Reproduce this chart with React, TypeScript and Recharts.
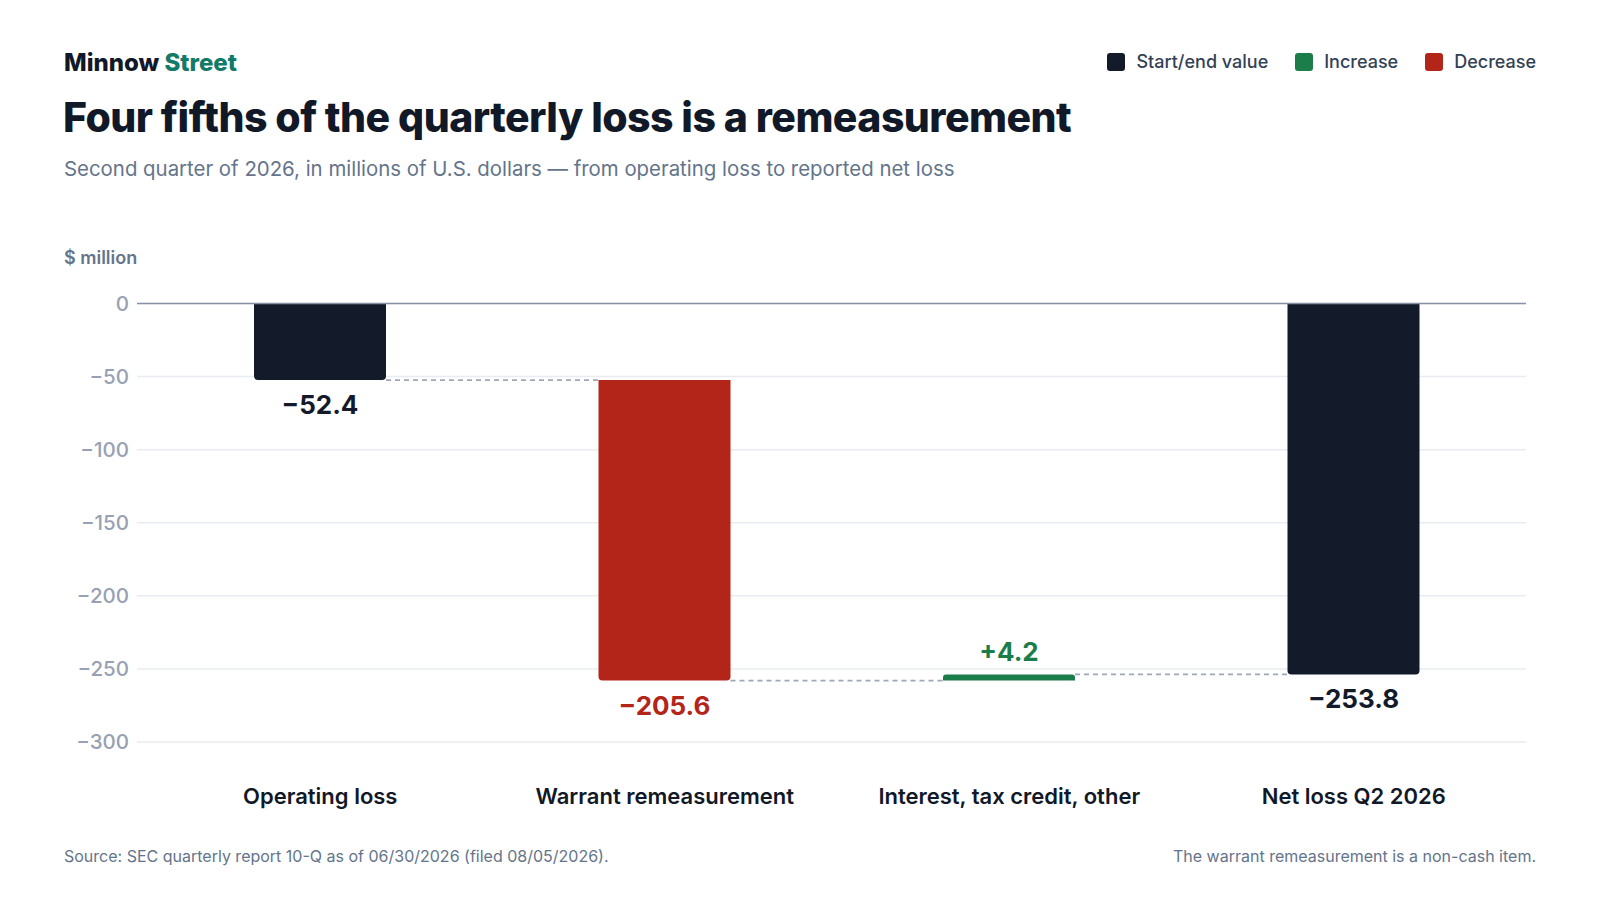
import React from 'react';
import { BarChart, Bar, XAxis, YAxis, CartesianGrid, ReferenceLine } from 'recharts';

const categories = ['Operating loss', 'Warrant remeasurement', 'Interest, tax credit, other', 'Net loss Q2 2026'];
const values = [-52.4, -205.6, 4.2, -253.8];
const kinds = ['total', 'decrease', 'increase', 'total'];
const yTicks = [0, -50, -100, -150, -200, -250, -300];
const legendLabels = ['Start/end value', 'Increase', 'Decrease'];
const legendKinds = ['total', 'increase', 'decrease'];

const COLORS: Record<string, string> = {
  total: '#131a29',
  increase: '#1b7d4a',
  decrease: '#b32419',
};

const FONT = 'Inter, "Noto Sans", sans-serif';

let running = 0;
const data = categories.map((name, i) => {
  const kind = kinds[i];
  const v = values[i];
  let start: number;
  let end: number;
  if (kind === 'total') {
    start = 0;
    end = v;
  } else {
    start = running;
    end = running + v;
  }
  running = end;
  return { name, kind, value: v, start, end };
});

const fmt = (v: number) => (v < 0 ? '\u2212' + Math.abs(v) : v > 0 ? '+' + v : '0');
const fmtLabel = (v: number, kind: string) =>
  v < 0 ? '\u2212' + Math.abs(v).toFixed(1) : (kind === 'increase' ? '+' : '') + v.toFixed(1);

const edges: Record<number, { right: number; endY: number }> = {};

const WaterfallShape = (props: any) => {
  const { x, y, width, height, payload, index } = props;
  const top = Math.min(y, y + height);
  const bottom = Math.max(y, y + height);
  const h = bottom - top;
  const color = COLORS[payload.kind];
  const down = payload.value < 0;
  const r = Math.min(4, h / 2, width / 2);
  let d: string;
  if (down) {
    d = `M${x},${top} H${x + width} V${bottom - r} Q${x + width},${bottom} ${x + width - r},${bottom} H${x + r} Q${x},${bottom} ${x},${bottom - r} Z`;
  } else {
    d = `M${x},${bottom} V${top + r} Q${x},${top} ${x + r},${top} H${x + width - r} Q${x + width},${top} ${x + width},${top + r} V${bottom} Z`;
  }
  const endY = down ? bottom : top;
  edges[index] = { right: x + width, endY };
  const prev = index > 0 ? edges[index - 1] : null;
  const labelY = down ? bottom + 34 : top - 13;
  return (
    <g>
      {prev && (
        <line
          x1={prev.right}
          x2={x}
          y1={prev.endY}
          y2={prev.endY}
          stroke="#9ea8b8"
          strokeWidth={1.7}
          strokeDasharray="5 4"
        />
      )}
      <path d={d} fill={color} />
      <text
        x={x + width / 2}
        y={labelY}
        textAnchor="middle"
        fill={color}
        style={{ fontFamily: FONT, fontSize: 26, fontWeight: 700 }}
      >
        {fmtLabel(payload.value, payload.kind)}
      </text>
    </g>
  );
};

export default function App() {
  return (
    <div
      style={{
        position: 'absolute',
        left: 0,
        top: 0,
        width: 1600,
        height: 900,
        background: '#ffffff',
        fontFamily: FONT,
        overflow: 'hidden',
      }}
    >
      <div style={{ position: 'absolute', left: 0, top: 0 }}>
        <BarChart
          width={1600}
          height={900}
          data={data}
          margin={{ top: 303.5, right: 74, bottom: 98, left: 0 }}
          barSize={132}
        >
          <CartesianGrid vertical={false} stroke="#e8ecf1" strokeWidth={1.5} />
          <XAxis
            dataKey="name"
            axisLine={false}
            tickLine={false}
            tickSize={0}
            tickMargin={46}
            height={60}
            interval={0}
            padding={{ left: 11, right: 0 }}
            tick={{ fill: '#111827', fontSize: 22, fontWeight: 600, fontFamily: FONT }}
          />
          <YAxis
            width={137}
            domain={[-300, 0]}
            ticks={yTicks}
            axisLine={false}
            tickLine={false}
            tickSize={0}
            tickMargin={8}
            tickFormatter={fmt}
            tick={{ fill: '#97a1b3', fontSize: 20.5, fontWeight: 500, fontFamily: FONT }}
          />
          <ReferenceLine y={0} stroke="#8792a6" strokeWidth={1.6} />
          <Bar
            dataKey={(d: any) => [d.start, d.end]}
            isAnimationActive={false}
            shape={WaterfallShape}
            fill="#131a29"
          />
        </BarChart>
      </div>

      <svg
        width={1600}
        height={900}
        style={{ position: 'absolute', left: 0, top: 0, pointerEvents: 'none' }}
      >
        <text x={64} y={71} style={{ fontFamily: FONT, fontSize: 24, fontWeight: 800, letterSpacing: 0 }}>
          <tspan fill="#111827">Minnow </tspan>
          <tspan fill="#117a69">Street</tspan>
        </text>
        <text
          x={63}
          y={132}
          fill="#111827"
          style={{ fontFamily: FONT, fontSize: 41, fontWeight: 800, letterSpacing: -0.55 }}
        >
          Four fifths of the quarterly loss is a remeasurement
        </text>
        <text x={64} y={176} fill="#64748b" style={{ fontFamily: FONT, fontSize: 20.4, fontWeight: 400 }}>
          Second quarter of 2026, in millions of U.S. dollars — from operating loss to reported net loss
        </text>
        <text x={64} y={264} fill="#64748b" style={{ fontFamily: FONT, fontSize: 18, fontWeight: 600 }}>
          $ million
        </text>
        <text x={64} y={862} fill="#64748b" style={{ fontFamily: FONT, fontSize: 16, fontWeight: 400 }}>
          Source: SEC quarterly report 10-Q as of 06/30/2026 (filed 08/05/2026).
        </text>
        <text
          x={1536}
          y={862}
          textAnchor="end"
          fill="#64748b"
          style={{ fontFamily: FONT, fontSize: 16, fontWeight: 400 }}
        >
          The warrant remeasurement is a non-cash item.
        </text>
      </svg>

      <div
        style={{
          position: 'absolute',
          right: 64,
          top: 50.5,
          height: 22,
          display: 'flex',
          alignItems: 'center',
        }}
      >
        {legendLabels.map((label, i) => (
          <div
            key={label}
            style={{ display: 'flex', alignItems: 'center', marginLeft: i === 0 ? 0 : 27 }}
          >
            <div
              style={{
                width: 18,
                height: 18,
                borderRadius: 3,
                background: COLORS[legendKinds[i]],
                marginRight: 11,
              }}
            />
            <span style={{ fontSize: 18, lineHeight: '22px', fontWeight: 500, color: '#334155' }}>
              {label}
            </span>
          </div>
        ))}
      </div>
    </div>
  );
}
